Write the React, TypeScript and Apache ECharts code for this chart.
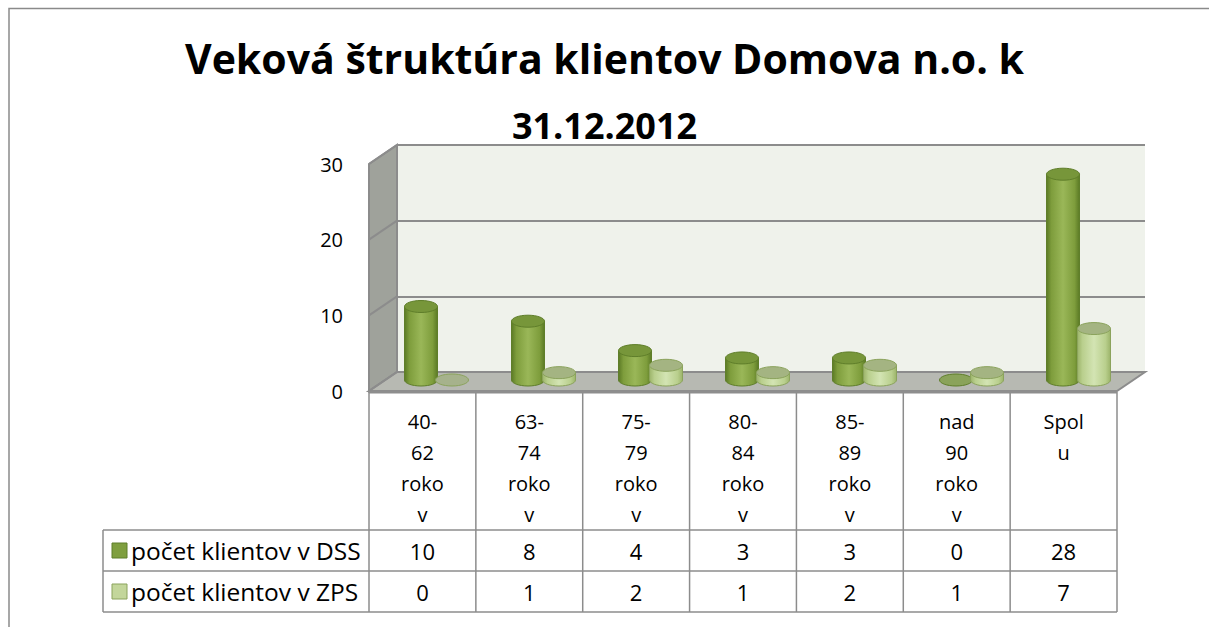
import React, { useEffect, useRef } from "react";
import * as echarts from "echarts";

const titleLine1 = "Veková štruktúra klientov Domova n.o. k";
const titleLine2 = "31.12.2012";
const categoryLabels = [
  "40-\n62\nroko\nv",
  "63-\n74\nroko\nv",
  "75-\n79\nroko\nv",
  "80-\n84\nroko\nv",
  "85-\n89\nroko\nv",
  "nad\n90\nroko\nv",
  "Spol\nu",
];
const seriesNames = ["počet klientov v DSS", "počet klientov v ZPS"];
const dssValues = [10, 8, 4, 3, 3, 0, 28];
const zpsValues = [0, 1, 2, 1, 2, 1, 7];
const yTicks = [0, 10, 20, 30];

const FONT = "Open Sans";

const DSS_COL = { dark: "#5b7a25", mid: "#7e9d3c", light: "#9ab758", top: "#77963a", edge: "#5f7e2a", zero: "#8aa35a", legend: "#7f9f3f" };
const ZPS_COL = { dark: "#9cb46a", mid: "#b9cf8d", light: "#d3e4b3", top: "#a4b482", edge: "#8ba35c", zero: "#a6b28c", legend: "#c3d69b" };

function cylinder(offset: number, c: any) {
  return (params: any, api: any) => {
    const i = api.value(0);
    const v = api.value(1);
    const top = api.coord([i, v]);
    const base = api.coord([i, 0]);
    const cx = top[0] + offset;
    const w = 33;
    const rx = w / 2;
    const ry = 6;
    const grad = new echarts.graphic.LinearGradient(0, 0, 1, 0, [
      { offset: 0, color: c.dark },
      { offset: 0.15, color: c.mid },
      { offset: 0.5, color: c.light },
      { offset: 0.85, color: c.mid },
      { offset: 1, color: c.dark },
    ]);
    const children: any[] = [];
    if (v > 0) {
      children.push({ type: "ellipse", shape: { cx, cy: base[1], rx, ry }, style: { fill: grad, stroke: c.edge, lineWidth: 1 } });
      children.push({ type: "rect", shape: { x: cx - rx, y: top[1], width: w, height: base[1] - top[1] }, style: { fill: grad } });
      children.push({ type: "line", shape: { x1: cx - rx, y1: top[1], x2: cx - rx, y2: base[1] }, style: { stroke: c.edge, lineWidth: 1 } });
      children.push({ type: "line", shape: { x1: cx + rx, y1: top[1], x2: cx + rx, y2: base[1] }, style: { stroke: c.edge, lineWidth: 1 } });
    }
    children.push({
      type: "ellipse",
      shape: { cx, cy: top[1], rx, ry },
      style: { fill: v > 0 ? c.top : c.zero, stroke: c.edge, lineWidth: 1 },
    });
    return { type: "group", children };
  };
}

export default function App() {
  const ref = useRef<HTMLDivElement>(null);
  useEffect(() => {
    if (!ref.current) return;
    const chart = echarts.init(ref.current, null, { renderer: "svg" });
    const yMax = yTicks[yTicks.length - 1];
    const DX = -28;
    const DY = 19;
    const edge = "#8c8c8c";

    // table geometry
    const tLeft = 369;
    const tRight = 1117;
    const colW = (tRight - tLeft) / categoryLabels.length;
    const legLeft = 103;
    const rowTops = [530, 571, 612];
    const tableTop = 392;
    const graphic: any[] = [];
    graphic.push({ type: "rect", shape: { x: 9, y: 8.5, width: 1400, height: 800 }, style: { fill: "none", stroke: "#8a8a8a", lineWidth: 1.5 }, silent: true });
    for (let k = 0; k <= categoryLabels.length; k++) {
      const x = tLeft + k * colW;
      graphic.push({ type: "line", shape: { x1: x, y1: tableTop, x2: x, y2: rowTops[2] }, style: { stroke: edge, lineWidth: 1.5 } });
    }
    rowTops.forEach((y) => {
      graphic.push({ type: "line", shape: { x1: legLeft, y1: y, x2: tRight, y2: y }, style: { stroke: edge, lineWidth: 1.5 } });
    });
    graphic.push({ type: "line", shape: { x1: legLeft, y1: rowTops[0], x2: legLeft, y2: rowTops[2] }, style: { stroke: edge, lineWidth: 1.5 } });
    const rows = [dssValues, zpsValues];
    const cols = [DSS_COL, ZPS_COL];
    rows.forEach((vals, r) => {
      const cy = (rowTops[r] + rowTops[r + 1]) / 2;
      graphic.push({ type: "rect", shape: { x: 112, y: cy - 7.5, width: 15, height: 15 }, style: { fill: cols[r].legend, stroke: cols[r].edge, lineWidth: 1 } });
      graphic.push({ type: "text", x: 131, y: cy, style: { text: seriesNames[r], fontFamily: FONT, fontSize: 24.5, fill: "#000", verticalAlign: "middle", align: "left" } });
      vals.forEach((v, i) => {
        graphic.push({ type: "text", x: tLeft + (i + 0.5) * colW, y: cy, style: { text: String(v), fontFamily: FONT, fontSize: 22, fill: "#000", verticalAlign: "middle", align: "center" } });
      });
    });

    const option: any = {
      animation: false,
      backgroundColor: "#ffffff",
      title: [
        { text: titleLine1, left: "center", top: 32, textStyle: { fontFamily: FONT, fontSize: 41, fontWeight: "bold", color: "#000" } },
        { text: titleLine2, left: "center", top: 102, textStyle: { fontFamily: FONT, fontSize: 36, fontWeight: "bold", color: "#000" } },
      ],
      grid: [
        { left: 397, right: 1209 - 1145, top: 145, bottom: 627 - 372, show: true, backgroundColor: "#eff2eb", borderWidth: 0 },
        { left: tLeft, right: 1209 - tRight, top: 164, bottom: 627 - 391 },
        { left: 383, right: 1209 - 1132, top: 380 - 30 * 7.35, bottom: 627 - 380 },
      ],
      xAxis: [
        { gridIndex: 0, type: "value", min: 0, max: 1, show: false },
        {
          gridIndex: 1, type: "category", data: categoryLabels,
          axisLine: { show: false }, axisTick: { show: false }, splitLine: { show: false },
          axisLabel: { fontFamily: FONT, fontSize: 20, color: "#000", lineHeight: 31, margin: 15, verticalAlign: "top", interval: 0 },
        },
        { gridIndex: 2, type: "category", data: categoryLabels, show: false },
      ],
      yAxis: [
        {
          gridIndex: 0, type: "value", min: 0, max: yMax, interval: 10,
          axisLine: { show: false }, axisTick: { show: false }, axisLabel: { show: false },
          splitLine: { show: true, lineStyle: { color: edge, width: 2 } },
        },
        {
          gridIndex: 1, type: "value", min: 0, max: yMax, interval: 10,
          axisLine: { show: false }, axisTick: { show: false }, splitLine: { show: false },
          axisLabel: { fontFamily: FONT, fontSize: 20, color: "#000", margin: 26, padding: [7, 0, 0, 0] },
        },
        { gridIndex: 2, type: "value", min: 0, max: yMax, show: false },
      ],
      graphic,
      series: [
        {
          type: "custom",
          name: "walls",
          xAxisIndex: 0,
          yAxisIndex: 0,
          z: 1,
          silent: true,
          data: [[0, 0]],
          renderItem: (params: any, api: any) => {
            const bt = api.coord([0, yMax]);
            const bb = api.coord([0, 0]);
            const rb = api.coord([1, 0]);
            const ch: any[] = [];
            ch.push({
              type: "polygon",
              shape: { points: [[bt[0], bt[1]], [bb[0], bb[1]], [bb[0] + DX, bb[1] + DY], [bt[0] + DX, bt[1] + DY]] },
              style: { fill: "#9fa29b", stroke: edge, lineWidth: 2 },
            });
            ch.push({
              type: "polygon",
              shape: { points: [[bb[0], bb[1]], [rb[0], rb[1]], [rb[0] + DX, rb[1] + DY], [bb[0] + DX, bb[1] + DY]] },
              style: { fill: "#b7b9b2", stroke: edge, lineWidth: 2 },
            });
            ch.push({
              type: "line",
              shape: { x1: bb[0] + DX, y1: bb[1] + DY + 1, x2: rb[0] + DX, y2: rb[1] + DY + 1 },
              style: { stroke: "#8e8e8e", lineWidth: 3 },
            });
            yTicks.forEach((t) => {
              const p = api.coord([0, t]);
              ch.push({ type: "line", shape: { x1: p[0], y1: p[1], x2: p[0] + DX, y2: p[1] + DY }, style: { stroke: edge, lineWidth: 2 } });
            });
            ch.push({ type: "line", shape: { x1: bt[0], y1: bt[1], x2: bb[0], y2: bb[1] }, style: { stroke: edge, lineWidth: 2 } });
            return { type: "group", children: ch };
          },
        },
        {
          type: "custom",
          name: seriesNames[0],
          xAxisIndex: 2,
          yAxisIndex: 2,
          z: 5,
          data: dssValues.map((v, i) => [i, v]),
          renderItem: cylinder(-15.5, DSS_COL),
        },
        {
          type: "custom",
          name: seriesNames[1],
          xAxisIndex: 2,
          yAxisIndex: 2,
          z: 5,
          data: zpsValues.map((v, i) => [i, v]),
          renderItem: cylinder(15.5, ZPS_COL),
        },
      ],
    };
    chart.setOption(option);
    return () => chart.dispose();
  }, []);
  return <div ref={ref} style={{ position: "absolute", left: 0, top: 0, width: 1209, height: 627 }} />;
}
